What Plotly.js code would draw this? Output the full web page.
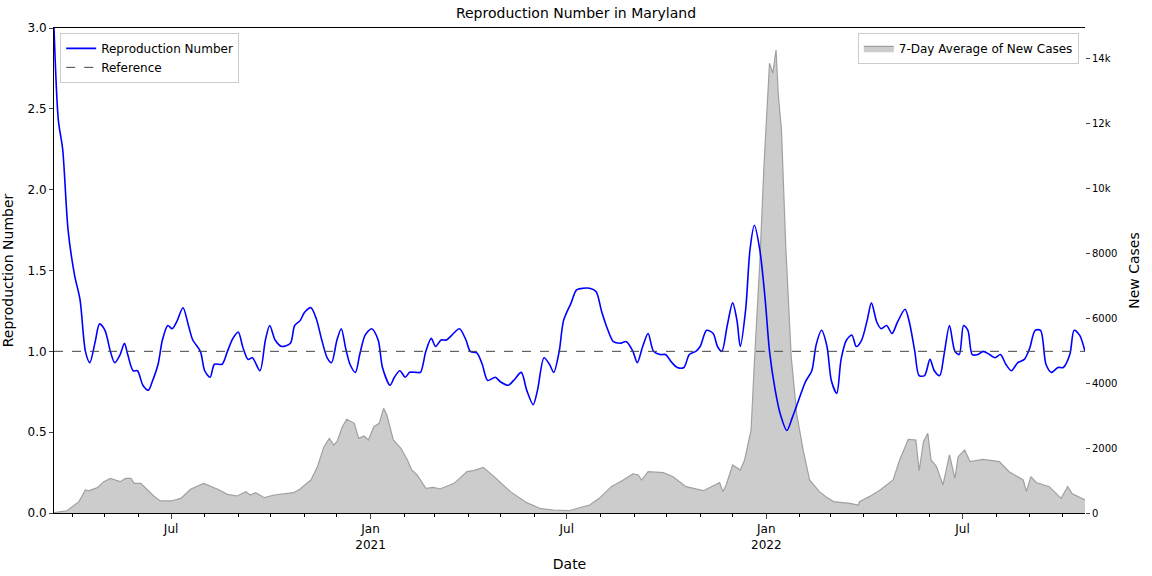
<!DOCTYPE html>
<html>
<head>
<meta charset="utf-8">
<script src="https://cdn.plot.ly/plotly-3.0.1.min.js"></script>
<style>body{margin:0;background:#fff}#canvas{width:1152px;height:576px}</style>
</head>
<body>
<div id="canvas"></div>
<script>
// day offsets are counted from this date
const START = "2020-03-15";
const END_DAY = 951;

// reproduction number
const r_days = [0,4,8,13,19,24,29,33,38,42,47,52,56,61,65,68,73,77,82,87,91,96,100,105,109,113,119,124,128,135,139,144,148,155,160,165,170,174,179,183,190,195,199,204,210,218,222,227,231,237,242,247,252,256,261,265,269,273,278,282,287,293,299,303,310,314,319,324,328,334,338,343,348,352,357,362,367,374,380,384,390,395,400,407,412,419,424,431,436,442,446,452,457,461,466,470,477,482,488,494,500,505,511,516,522,528,534,538,543,548,553,559,564,570,575,581,586,592,596,602,608,612,616,621,626,630,633,638,642,646,651,656,660,665,670,676,681,687,693,699,703,708,713,717,722,726,731,736,740,745,750,754,759,763,768,773,778,785,789,794,798,803,808,812,817,821,826,831,835,839,843,847,852,857,863,868,873,878,883,889,895,900,905,910,915,920,926,931,937,941,946,951];
const r_vals = [3.0,2.43,2.25,1.75,1.47,1.32,1.0,0.93,1.06,1.17,1.13,1.0,0.93,0.98,1.05,0.98,0.88,0.88,0.79,0.76,0.82,0.92,1.07,1.16,1.14,1.18,1.27,1.16,1.07,1.0,0.88,0.84,0.92,0.92,1.0,1.08,1.12,1.03,0.95,0.96,0.88,1.07,1.16,1.07,1.03,1.05,1.16,1.19,1.24,1.27,1.2,1.07,0.96,0.93,1.07,1.14,1.02,0.92,0.87,0.98,1.1,1.14,1.07,0.9,0.79,0.84,0.88,0.84,0.87,0.87,0.87,1.0,1.08,1.03,1.07,1.07,1.1,1.14,1.07,1.0,0.99,0.92,0.82,0.84,0.81,0.79,0.82,0.87,0.76,0.67,0.76,0.96,0.92,0.87,1.0,1.19,1.3,1.38,1.39,1.39,1.37,1.25,1.13,1.06,1.05,1.06,1.0,0.93,1.03,1.11,1.0,0.98,0.98,0.93,0.9,0.9,0.98,1.0,1.03,1.13,1.11,1.03,1.0,1.16,1.3,1.19,1.03,1.26,1.63,1.78,1.63,1.32,1.0,0.77,0.61,0.51,0.59,0.7,0.81,0.88,1.04,1.13,1.03,0.82,0.74,0.95,1.07,1.1,1.03,1.07,1.19,1.3,1.18,1.14,1.16,1.11,1.18,1.26,1.18,1.0,0.85,0.85,0.95,0.88,0.85,0.98,1.16,1.0,0.98,1.16,1.13,0.98,0.98,1.0,0.98,0.96,0.98,0.92,0.88,0.93,0.95,1.02,1.13,1.13,0.92,0.87,0.9,0.9,0.98,1.13,1.1,1.0];

// 7-day average of new cases
const case_days = [0,12,23,29,32,40,46,52,61,66,71,74,80,86,92,98,108,117,126,138,151,160,169,177,181,186,194,203,221,227,237,243,249,254,258,261,266,270,277,281,286,290,295,300,304,307,313,320,326,330,335,343,350,356,369,381,387,396,406,421,436,449,461,475,494,503,514,525,534,539,542,548,562,571,583,599,614,617,620,626,633,637,643,646,651,655,660,663,666,668,671,675,680,685,691,697,706,712,719,734,742,743,752,762,774,780,788,795,798,802,806,809,814,820,826,831,834,840,845,857,872,881,894,897,901,906,918,929,935,939,951];
const case_vals = [10,70,350,710,680,780,965,1065,965,1065,1065,913,913,710,523,370,370,451,730,913,730,575,523,657,554,626,472,554,626,739,1015,1426,2041,2297,2092,2195,2656,2882,2759,2297,2369,2246,2656,2759,3220,3015,2246,1990,1631,1323,1169,759,790,739,913,1272,1303,1405,1118,657,318,133,92,70,246,451,810,1015,1200,1169,1015,1272,1241,1118,810,687,933,657,864,1477,1323,1631,2554,4605,7683,10760,13837,13530,14246,12914,11785,8195,4810,3067,1938,1015,657,503,350,297,246,350,503,708,1015,1631,2267,2246,1298,2195,2451,1631,1426,862,1785,1065,1733,1938,1580,1651,1580,1272,1015,657,1118,938,810,451,810,600,400];

const toDate = d => new Date(Date.parse(START) + d * 864e5).toISOString().slice(0, 10);

const traces = [
    {
        x: case_days.map(toDate), y: case_vals, yaxis: "y", mode: "lines",
        fill: "tozeroy", fillcolor: "#cccccc", line: { color: "#a0a0a0", width: 1.2 },
        name: "7-Day Average of New Cases", legend: "legend2",
    },
    {
        x: r_days.map(toDate), y: r_vals, yaxis: "y2", mode: "lines",
        line: { color: "#0000ff", width: 1.6, shape: "spline", smoothing: 0.8 },
        name: "Reproduction Number",
    },
    {
        x: [toDate(0), toDate(END_DAY)], y: [1, 1], yaxis: "y2", mode: "lines",
        line: { color: "#444444", width: 1, dash: "dash" }, name: "Reference",
    },
];

const font = { family: "DejaVu Sans", size: 12, color: "#000" };

const layout = {
    width: 1152, height: 576,
    margin: { l: 54, r: 67, t: 28, b: 63 },
    paper_bgcolor: "#fff", plot_bgcolor: "#fff",
    font: font,
    title: { text: "Reproduction Number in Maryland", font: { size: 14 }, x: 0.5, y: 0.985, yanchor: "top" },
    showlegend: true,
    xaxis: {
        range: [toDate(0), toDate(END_DAY)], type: "date",
        tickvals: ["2020-07-01", "2021-01-01", "2021-07-01", "2022-01-01", "2022-07-01"],
        ticktext: ["Jul", "Jan<br>2021", "Jul", "Jan<br>2022", "Jul"],
        ticks: "outside", ticklen: 5, showgrid: false, zeroline: false,
        showline: true, linecolor: "#000", mirror: true,
        minor: { dtick: "M1", tick0: "2020-01-01", ticks: "outside", ticklen: 3, tickcolor: "#000", showgrid: false },
        title: { text: "Date", standoff: 8 },
    },
    yaxis: {
        side: "right", range: [0, 14923], tickvals: [0, 2000, 4000, 6000, 8000, 10000, 12000, 14000],
        ticks: "outside", ticklen: 4, showgrid: false, zeroline: false, tickfont: { size: 10 },
        title: { text: "New Cases", standoff: 12 },
    },
    yaxis2: {
        side: "left", overlaying: "y", range: [0, 3], dtick: 0.5, tickformat: ".1f",
        ticks: "outside", ticklen: 4, showgrid: false, zeroline: false,
        showline: true, linecolor: "#000",
        title: { text: "Reproduction Number", standoff: 10 },
    },
    legend: {
        x: 0.006, y: 0.99, xanchor: "left", yanchor: "top",
        bgcolor: "rgba(255,255,255,0.8)", bordercolor: "#ccc", borderwidth: 1,
        font: { size: 12 },
    },
    legend2: {
        x: 0.994, y: 0.99, xanchor: "right", yanchor: "top",
        bgcolor: "rgba(255,255,255,0.8)", bordercolor: "#ccc", borderwidth: 1,
        font: { size: 12 },
    },
};

Plotly.newPlot("canvas", traces, layout, { displayModeBar: false });
</script>
</body>
</html>
